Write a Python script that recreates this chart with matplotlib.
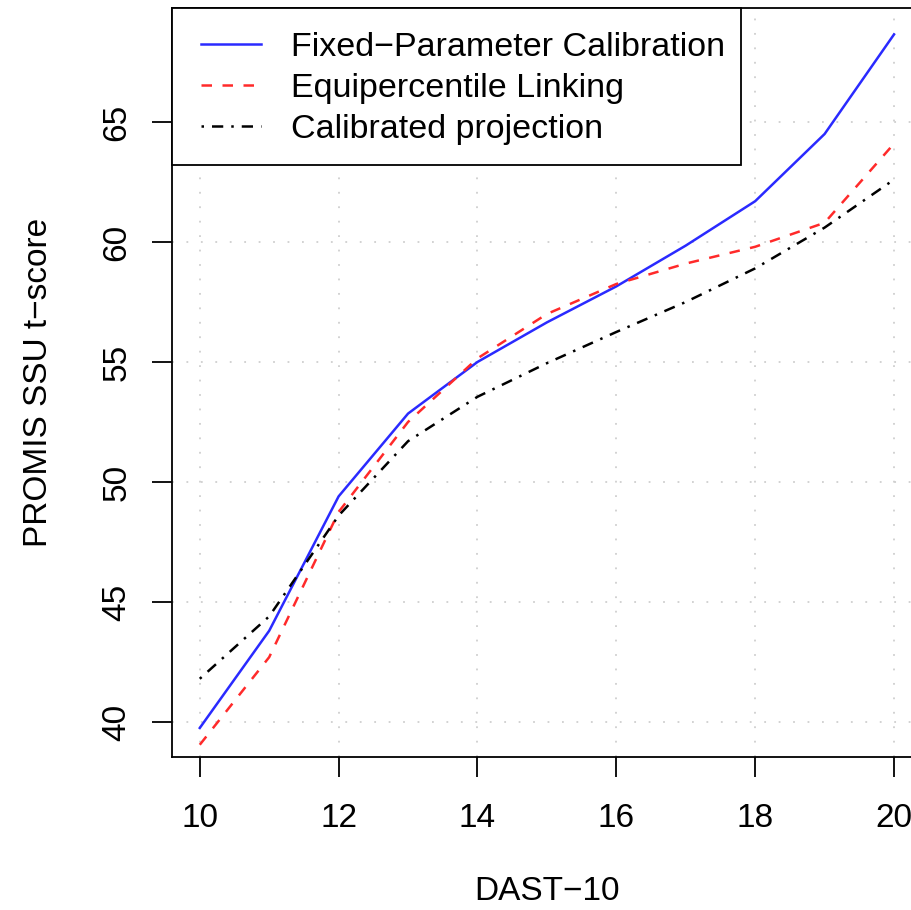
import matplotlib
matplotlib.use("Agg")
import matplotlib.pyplot as plt
from matplotlib.patches import Rectangle

plt.rcParams['font.family'] = ['Liberation Sans', 'DejaVu Sans']

dast = [10, 11, 12, 13, 14, 15, 16, 17, 18, 19, 20]
fixed_param = [39.75, 43.8, 49.4, 52.85, 55.0, 56.65, 58.15, 59.85, 61.7, 64.5, 68.65]
equipercentile = [39.05, 42.7, 48.75, 52.5, 55.15, 57.0, 58.25, 59.1, 59.8, 60.8, 64.1]
calibrated = [41.8, 44.4, 48.6, 51.7, 53.55, 54.95, 56.25, 57.5, 58.9, 60.6, 62.6]

series_labels = ["Fixed\u2212Parameter Calibration", "Equipercentile Linking", "Calibrated projection"]
xticks = [10, 12, 14, 16, 18, 20]
yticks = [40, 45, 50, 55, 60, 65]

FS = 24
W, H = 912, 910
fig = plt.figure(figsize=(W / 100, H / 100), dpi=100)
left, right, bottom, top = 172, 921.8, 757, 8
ax = fig.add_axes([left / W, 1 - bottom / H, (right - left) / W, (bottom - top) / H])

ax.set_xlim(9.6, 20.4)
ax.set_ylim(38.54, 69.75)

for x in xticks:
    ax.axvline(x, color='#cfcfcf', lw=1.3, ls=(0, (1, 7)), zorder=0)
for y in yticks:
    ax.axhline(y, color='#cfcfcf', lw=1.3, ls=(0, (1, 7)), zorder=0)

ax.plot(dast, fixed_param, color='#2a2aff', lw=1.8, label=series_labels[0])
ax.plot(dast, equipercentile, color='#ff2a2a', lw=1.8, dashes=(4.2, 4.2), label=series_labels[1])
ax.plot(dast, calibrated, color='black', lw=1.8, dashes=(1.0, 3.2, 4.5, 3.2), label=series_labels[2])

ax.set_xticks(xticks)
ax.set_yticks(yticks)
ax.tick_params(axis='both', direction='out', length=14.4, width=1.3, labelsize=FS, colors='black')
ax.tick_params(axis='x', pad=19)
ax.tick_params(axis='y', pad=14)
for lab in ax.get_yticklabels():
    lab.set_rotation(90)
    lab.set_va('center')

for s in ax.spines.values():
    s.set_linewidth(1.3)
    s.set_color('black')
ax.spines['right'].set_visible(False)

ax.set_xlabel("DAST\u221210", fontsize=FS, labelpad=30)
ax.set_ylabel("PROMIS SSU t\u2212score", fontsize=FS, labelpad=34)

# legend frame (R style, top-left)
frame = Rectangle((172 / W, 1 - 165 / H), (741 - 172) / W, (165 - 8) / H,
                  transform=fig.transFigure, facecolor='white',
                  edgecolor='black', lw=1.3, zorder=5, clip_on=False)
ax.add_artist(frame)
leg = ax.legend(loc='upper left', bbox_to_anchor=(201 / W, 1 - 31.5 / H),
                bbox_transform=fig.transFigure, borderaxespad=0, borderpad=0,
                frameon=False, fontsize=24.5,
                handlelength=1.75, handletextpad=0.9, labelspacing=0.3)
leg.set_zorder(6)

fig.savefig("out.png", dpi=100)
